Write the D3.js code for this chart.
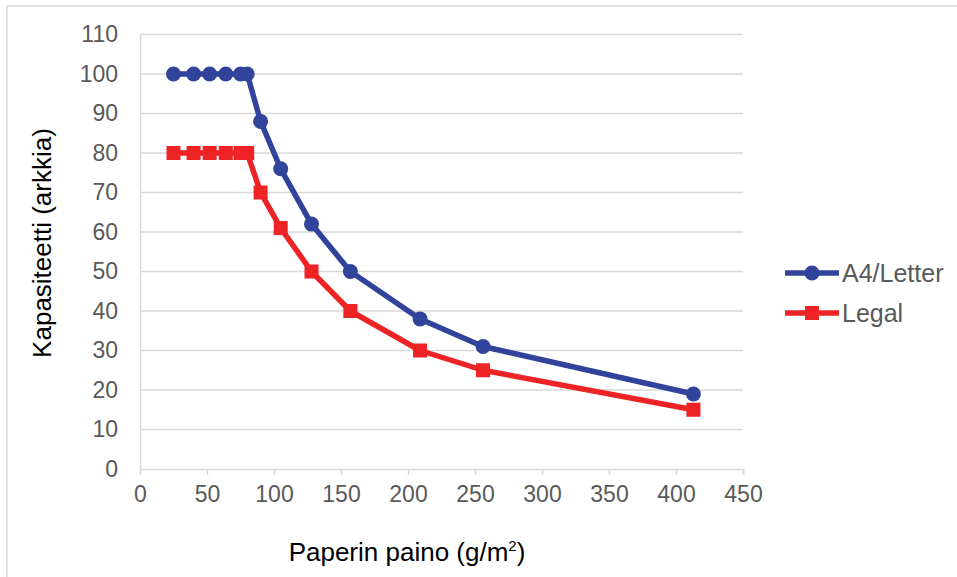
<!DOCTYPE html>
<html><head><meta charset="utf-8">
<script src="https://cdn.jsdelivr.net/npm/d3@7"></script>
<style>body{margin:0;background:#fff}svg{display:block;font-family:"Liberation Sans",Arial,sans-serif}</style>
</head><body><svg id="c" width="957" height="577"></svg>
<script>
const weights = [25, 40, 52, 64, 75, 80, 90, 105, 128, 157, 209, 256, 413];
const a4Letter = [100, 100, 100, 100, 100, 100, 88, 76, 62, 50, 38, 31, 19];
const legal = [80, 80, 80, 80, 80, 80, 70, 61, 50, 40, 30, 25, 15];
const xTicks = [0, 50, 100, 150, 200, 250, 300, 350, 400, 450];
const yTicks = [0, 10, 20, 30, 40, 50, 60, 70, 80, 90, 100, 110];
const seriesNames = ["A4/Letter", "Legal"];
const seriesColors = ["#31439b", "#ee2326"];

const svg = d3.select("#c");
const x = d3.scaleLinear().domain([0, 450]).range([140, 743]);
const y = d3.scaleLinear().domain([0, 110]).range([469, 34.5]);
const grid = "#d9d9d9";
const FONT = "Liberation Sans, Arial, sans-serif";

// outer border
svg.append("line").attr("x1", 7).attr("x2", 957).attr("y1", 6).attr("y2", 6).attr("stroke", grid).attr("stroke-width", 1.5);
svg.append("line").attr("x1", 7).attr("x2", 7).attr("y1", 6).attr("y2", 577).attr("stroke", grid).attr("stroke-width", 1.5);

// gridlines
svg.append("g").selectAll("line").data(yTicks.filter(d => d > 0)).join("line")
  .attr("x1", x(0)).attr("x2", x(450)).attr("y1", d => y(d)).attr("y2", d => y(d))
  .attr("stroke", grid).attr("stroke-width", 1.5);

// x axis
const xa = svg.append("g").attr("transform", `translate(0,${y(0)})`)
  .call(d3.axisBottom(x).tickValues(xTicks).tickSize(6).tickPadding(11));
xa.select(".domain").attr("stroke", grid).attr("stroke-width", 1.5);
xa.selectAll(".tick line").attr("stroke", grid).attr("stroke-width", 1.5);
xa.selectAll("text").attr("fill", "#595959").attr("font-size", 23).attr("font-family", FONT);

// y axis
const ya = svg.append("g").attr("transform", `translate(${x(0)},0)`)
  .call(d3.axisLeft(y).tickValues(yTicks).tickSize(0).tickPadding(22));
ya.select(".domain").attr("stroke", grid).attr("stroke-width", 1.5);
ya.selectAll("text").attr("fill", "#595959").attr("font-size", 23).attr("font-family", FONT);

// titles
svg.append("text").attr("x", 407).attr("y", 561).attr("text-anchor", "middle")
  .attr("font-size", 26).attr("fill", "#000")
  .html('Paperin paino (g/m<tspan dy="-10" font-size="15">2</tspan><tspan dy="10">)</tspan>');
svg.append("text").attr("transform", "translate(51,243) rotate(-90)").attr("text-anchor", "middle")
  .attr("font-size", 26).attr("fill", "#000").text("Kapasiteetti (arkkia)");

const series = [a4Letter, legal];
const line = d3.line().x((d, i) => x(weights[i])).y(d => y(d));
series.forEach((vals, s) => {
  const g = svg.append("g");
  g.append("path").datum(vals).attr("d", line).attr("fill", "none")
    .attr("stroke", seriesColors[s]).attr("stroke-width", 5.5).attr("stroke-linejoin", "round");
  if (s === 0) {
    g.selectAll("circle").data(vals).join("circle")
      .attr("cx", (d, i) => x(weights[i])).attr("cy", d => y(d)).attr("r", 7.5).attr("fill", seriesColors[s]);
  } else {
    g.selectAll("rect").data(vals).join("rect")
      .attr("x", (d, i) => x(weights[i]) - 7).attr("y", d => y(d) - 7).attr("width", 14).attr("height", 14).attr("fill", seriesColors[s]);
  }
});

// legend
const legY = [273, 313];
seriesNames.forEach((name, s) => {
  const g = svg.append("g");
  g.append("line").attr("x1", 785).attr("x2", 839).attr("y1", legY[s]).attr("y2", legY[s])
    .attr("stroke", seriesColors[s]).attr("stroke-width", 5.5);
  if (s === 0) g.append("circle").attr("cx", 812).attr("cy", legY[s]).attr("r", 7.5).attr("fill", seriesColors[s]);
  else g.append("rect").attr("x", 805).attr("y", legY[s] - 7).attr("width", 14).attr("height", 14).attr("fill", seriesColors[s]);
  g.append("text").attr("x", 842).attr("y", legY[s] + 9).attr("font-size", 25).attr("fill", "#595959").text(name);
});
</script></body></html>
